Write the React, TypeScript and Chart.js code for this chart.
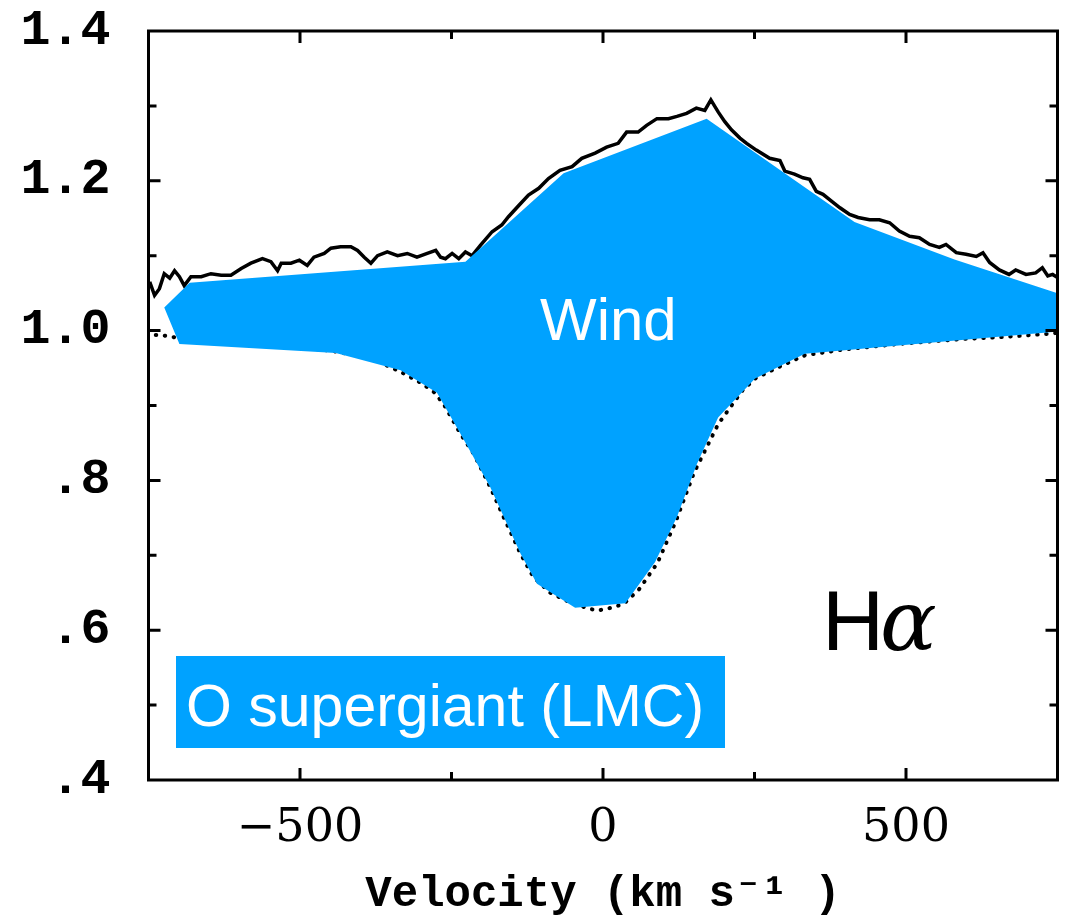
import { useEffect, useRef } from 'react';
import { Chart, registerables } from 'chart.js';

Chart.register(...registerables);

// Observed H-alpha spectrum (solid line)
const spectrumVelocity = [-748, -740, -732, -724, -715, -707, -699, -691, -680, -663, -647, -630, -614, -597, -581, -562, -548, -537, -531, -515, -501, -488, -477, -460, -449, -433, -416, -405, -394, -383, -372, -356, -339, -323, -307, -290, -276, -268, -260, -249, -238, -227, -216, -202, -183, -167, -156, -139, -123, -106, -90, -71, -51, -35, -13, 6, 25, 39, 58, 72, 89, 108, 122, 138, 154, 168, 178, 190, 201, 212, 226, 237, 253, 275, 292, 300, 316, 330, 341, 352, 363, 377, 391, 407, 421, 440, 456, 473, 489, 506, 522, 539, 555, 566, 583, 599, 616, 627, 638, 654, 670, 681, 698, 714, 725, 734, 742, 750];
const spectrumFlux = [1.065, 1.047, 1.056, 1.076, 1.070, 1.080, 1.072, 1.060, 1.072, 1.072, 1.076, 1.074, 1.074, 1.083, 1.090, 1.096, 1.092, 1.080, 1.090, 1.090, 1.094, 1.087, 1.098, 1.103, 1.110, 1.112, 1.112, 1.107, 1.098, 1.090, 1.100, 1.105, 1.100, 1.103, 1.098, 1.103, 1.107, 1.098, 1.096, 1.103, 1.096, 1.105, 1.100, 1.114, 1.132, 1.141, 1.152, 1.167, 1.181, 1.190, 1.203, 1.214, 1.219, 1.230, 1.237, 1.245, 1.250, 1.265, 1.265, 1.274, 1.283, 1.283, 1.286, 1.290, 1.297, 1.294, 1.308, 1.292, 1.279, 1.268, 1.257, 1.250, 1.241, 1.230, 1.227, 1.213, 1.209, 1.204, 1.202, 1.186, 1.182, 1.173, 1.164, 1.155, 1.151, 1.148, 1.148, 1.144, 1.133, 1.126, 1.124, 1.115, 1.111, 1.115, 1.104, 1.102, 1.099, 1.104, 1.091, 1.081, 1.075, 1.081, 1.075, 1.077, 1.084, 1.073, 1.075, 1.071];

// Photospheric absorption profile (dotted line)
const photosphereVelocity = [-738, -729, -700, -600, -500, -440, -380, -334, -300, -279, -263, -235, -213, -186, -164, -136, -115, -87, -49, -10, 14, 34, 60, 90, 120, 150, 190, 230, 251, 289, 333, 399, 500, 597, 651, 706, 739, 750];
const photosphereFlux = [0.994, 0.994, 0.990, 0.985, 0.978, 0.972, 0.962, 0.945, 0.930, 0.918, 0.902, 0.862, 0.835, 0.791, 0.751, 0.702, 0.671, 0.650, 0.635, 0.626, 0.630, 0.635, 0.655, 0.690, 0.745, 0.810, 0.875, 0.920, 0.936, 0.951, 0.967, 0.975, 0.983, 0.989, 0.991, 0.994, 0.996, 0.997];

// "Wind" shaded polygon (outline, clockwise)
const windVelocity = [-724, -682, -227, -65, 171, 415, 580, 750, 750, 742, 333, 251, 190, 155, 122, 86, 37, -46, -109, -136, -186, -235, -274, -334, -441, -699, -724];
const windFlux = [1.031, 1.064, 1.092, 1.210, 1.283, 1.145, 1.095, 1.050, 0.999, 0.998, 0.969, 0.936, 0.884, 0.822, 0.751, 0.691, 0.636, 0.630, 0.662, 0.702, 0.791, 0.862, 0.917, 0.947, 0.970, 0.982, 1.031];

const xTickValues = [-500, 0, 500];
const xTickLabels = ['\u2212500', '0', '500'];
const xMinorTickValues = [-500, -250, 0, 250, 500];
const yTickValues = [0.4, 0.6, 0.8, 1.0, 1.2, 1.4];
const yTickLabels = ['.4', '.6', '.8', '1.0', '1.2', '1.4'];
const yMinorTickValues = [0.5, 0.6, 0.7, 0.8, 0.9, 1.0, 1.1, 1.2, 1.3];

const BLUE = '#00a2ff';

const pts = (xs: number[], ys: number[]) => xs.map((x, i) => ({ x, y: ys[i] }));

const framePlugin = {
  id: 'frameTicks',
  afterDatasetsDraw(chart: any) {
    const { ctx, chartArea: a, scales } = chart;
    const x = scales.x;
    const y = scales.y;
    ctx.save();
    ctx.strokeStyle = '#000';
    ctx.lineWidth = 3;
    ctx.lineCap = 'butt';
    ctx.strokeRect(a.left, a.top, a.right - a.left, a.bottom - a.top);
    ctx.beginPath();
    for (const v of xMinorTickValues) {
      const px = x.getPixelForValue(v);
      const len = xTickValues.includes(v) ? 12 : 8;
      ctx.moveTo(px, a.bottom);
      ctx.lineTo(px, a.bottom - len);
      ctx.moveTo(px, a.top);
      ctx.lineTo(px, a.top + len);
    }
    for (const v of yMinorTickValues) {
      const py = y.getPixelForValue(v);
      const major = yTickValues.some((t) => Math.abs(t - v) < 1e-6);
      const len = major ? 12 : 8;
      ctx.moveTo(a.left, py);
      ctx.lineTo(a.left + len, py);
      ctx.moveTo(a.right, py);
      ctx.lineTo(a.right - len, py);
    }
    ctx.stroke();
    ctx.restore();
  },
};

const textPlugin = {
  id: 'annotations',
  afterDraw(chart: any) {
    const { ctx } = chart;
    ctx.save();
    // Wind label
    ctx.fillStyle = '#ffffff';
    ctx.textBaseline = 'alphabetic';
    ctx.textAlign = 'left';
    ctx.font = '60px "Liberation Sans", Arial, sans-serif';
    ctx.fillText('Wind', 540, 340);
    // O supergiant box
    ctx.fillStyle = BLUE;
    ctx.fillRect(176, 656, 549, 92);
    ctx.fillStyle = '#ffffff';
    ctx.font = '59px "Liberation Sans", Arial, sans-serif';
    ctx.fillText('O supergiant (LMC)', 186, 726);
    // H alpha
    ctx.fillStyle = '#000000';
    ctx.font = '86px "Liberation Sans", Arial, sans-serif';
    ctx.fillText('H', 822, 650);
    ctx.font = 'italic 84px "DejaVu Serif", serif';
    ctx.fillText('\u03b1', 880, 650);
    ctx.restore();
  },
};

export default function App() {
  const ref = useRef<HTMLCanvasElement | null>(null);
  useEffect(() => {
    if (!ref.current) return;
    const chart = new Chart(ref.current, {
      type: 'line',
      data: {
        datasets: [
          {
            label: 'Wind',
            data: pts(windVelocity, windFlux),
            borderWidth: 0,
            borderColor: BLUE,
            backgroundColor: BLUE,
            pointRadius: 0,
            fill: 'shape',
            tension: 0,
            order: 0,
          },
          {
            label: 'Observed',
            data: pts(spectrumVelocity, spectrumFlux),
            borderColor: '#000000',
            borderWidth: 3.5,
            borderJoinStyle: 'miter',
            pointRadius: 0,
            fill: false,
            tension: 0,
            order: 1,
          },
          {
            label: 'Photosphere',
            data: pts(photosphereVelocity, photosphereFlux),
            borderColor: '#000000',
            borderWidth: 4,
            borderDash: [0.5, 8.5],
            borderCapStyle: 'round',
            pointRadius: 0,
            fill: false,
            tension: 0,
            order: 2,
          },
        ],
      },
      options: {
        animation: false,
        responsive: false,
        events: [],
        layout: { padding: { left: 0, top: 31, right: 16.5, bottom: 0 } },
        plugins: { legend: { display: false }, tooltip: { enabled: false } },
        scales: {
          x: {
            type: 'linear',
            min: -750,
            max: 750,
            grid: { display: false, drawTicks: false },
            border: { display: false },
            afterBuildTicks: (s: any) => {
              s.ticks = xTickValues.map((v) => ({ value: v }));
            },
            afterFit: (s: any) => {
              s.height = 137;
              s.paddingLeft = 0;
              s.paddingRight = 0;
            },
            ticks: {
              autoSkip: false,
              maxRotation: 0,
              padding: 21,
              color: '#000',
              font: { family: '"DejaVu Serif", serif', size: 46 },
              callback: (_v: any, i: number) => xTickLabels[i],
            },
            title: {
              display: true,
              text: 'Velocity (km s\u207b\u00b9 )',
              color: '#000',
              padding: 0,
              font: { family: '"Liberation Mono", monospace', size: 44, weight: 'bold', lineHeight: 1 },
            },
          },
          y: {
            type: 'linear',
            min: 0.4,
            max: 1.4,
            grid: { display: false, drawTicks: false },
            border: { display: false },
            afterBuildTicks: (s: any) => {
              s.ticks = yTickValues.map((v) => ({ value: v }));
            },
            afterFit: (s: any) => {
              s.width = 148.5;
              s.paddingTop = 0;
              s.paddingBottom = 0;
            },
            ticks: {
              autoSkip: false,
              padding: 38,
              color: '#000',
              font: { family: '"Liberation Mono", monospace', size: 50, weight: 'bold' },
              callback: (_v: any, i: number) => yTickLabels[i],
            },
          },
        },
      },
      plugins: [framePlugin, textPlugin],
    } as any);
    return () => chart.destroy();
  }, []);
  return (
    <div style={{ position: 'fixed', left: 0, top: 0, width: 1074, height: 917, background: '#fff' }}>
      <canvas ref={ref} width={1074} height={917} style={{ display: 'block' }} />
    </div>
  );
}
